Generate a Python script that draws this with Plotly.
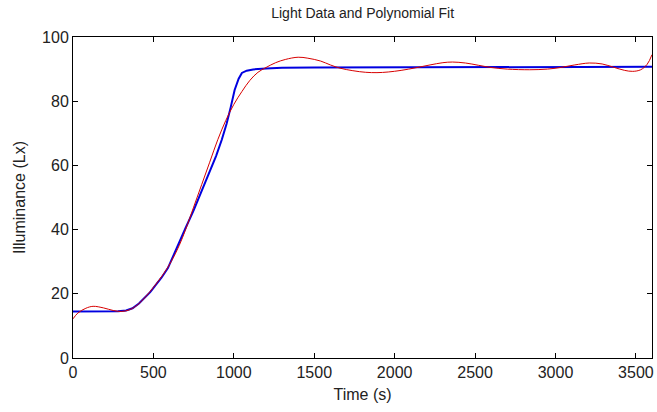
import plotly.graph_objects as go

# Measured light data (blue)
data_t = [0, 50, 100, 150, 200, 250, 280, 330, 370, 410, 450, 480, 510, 550, 590, 620,
          660, 700, 750, 800, 850, 890, 925, 955, 980, 1005, 1030, 1050, 1080, 1120,
          1200, 1300, 1500, 1800, 2100, 2400, 2700, 3000, 3300, 3600]
data_lux = [14.5, 14.5, 14.6, 14.5, 14.6, 14.5, 14.6, 14.8, 15.5, 17.0, 19.0, 20.5, 22.5,
            25.0, 28.0, 31.5, 36.0, 40.5, 46.0, 52.0, 58.0, 63.0, 68.0, 73.0, 78.0, 83.5,
            87.0, 88.8, 89.5, 89.9, 90.2, 90.4, 90.5, 90.5, 90.6, 90.6, 90.7, 90.6, 90.7, 90.7]

# Polynomial fit (red)
fit_t = [0, 30, 80, 125, 190, 250, 300, 350, 400, 450, 500, 560, 610, 660, 700, 750, 800,
         850, 900, 950, 1000, 1050, 1100, 1150, 1200, 1260, 1320, 1400, 1460, 1540, 1600,
         1660, 1740, 1820, 1890, 1960, 2040, 2130, 2220, 2300, 2360, 2440, 2520, 2600,
         2700, 2840, 2950, 3030, 3120, 3210, 3290, 3360, 3430, 3480, 3530, 3570, 3600]
fit_lux = [12.2, 14.0, 15.5, 16.1, 15.6, 14.8, 14.5, 15.0, 16.5, 19.0, 22.0, 26.0, 30.0,
           35.0, 40.0, 47.0, 54.0, 61.0, 68.0, 74.0, 79.0, 83.0, 86.5, 89.0, 90.5, 92.0,
           93.0, 93.7, 93.4, 92.5, 91.3, 90.3, 89.5, 89.0, 88.9, 89.1, 89.6, 90.4, 91.3,
           92.0, 92.2, 91.9, 91.2, 90.5, 90.0, 89.8, 90.0, 90.5, 91.3, 91.9, 91.6, 90.6,
           89.6, 89.3, 89.8, 91.5, 94.5]

x_ticks = [0, 500, 1000, 1500, 2000, 2500, 3000, 3500]
y_ticks = [0, 20, 40, 60, 80, 100]

fig = go.Figure()
fig.add_trace(go.Scatter(x=data_t, y=data_lux, mode="lines",
                         line=dict(color="#0000e0", width=2), showlegend=False))
fig.add_trace(go.Scatter(x=fit_t, y=fit_lux, mode="lines", line_shape="spline",
                         line=dict(color="#d80000", width=1), showlegend=False))

font = "Liberation Sans, Arial, sans-serif"
axis_common = dict(showgrid=False, zeroline=False, showline=True, linecolor="black",
                   linewidth=1, mirror="ticks", ticks="inside", ticklen=5,
                   tickcolor="black", tickfont=dict(family=font, size=16, color="#222"))

fig.update_layout(
    width=657, height=412,
    paper_bgcolor="white", plot_bgcolor="white",
    margin=dict(l=73, r=5, t=37, b=54, autoexpand=False),
    title=dict(text="Light Data and Polynomial Fit", x=0.552, xanchor="center",
               y=0.968, yanchor="middle",
               font=dict(family=font, size=14, color="#222")),
    xaxis=dict(range=[0, 3600], tickvals=x_ticks,
               title=dict(text="Time (s)", standoff=8,
                          font=dict(family=font, size=16, color="#222")),
               **axis_common),
    yaxis=dict(range=[0, 100], tickvals=y_ticks,
               title=dict(text="Illuminance (Lx)", standoff=12,
                          font=dict(family=font, size=16, color="#222")),
               **axis_common),
)

fig.write_html(
    "out.html",
    config={"displayModeBar": False},
    post_script="document.body.style.margin='0';document.body.style.overflow='hidden';",
)
